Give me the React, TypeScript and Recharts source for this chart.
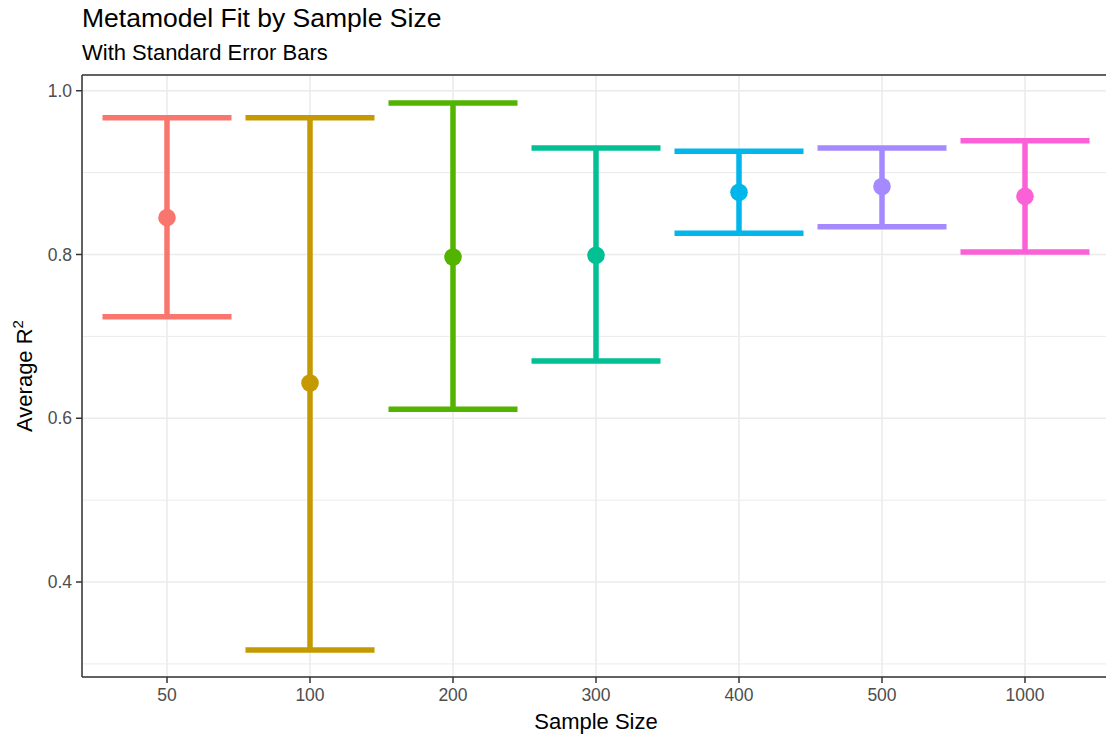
import React from "react";
import {
  ComposedChart, Bar, Line, XAxis, YAxis, CartesianGrid, ReferenceLine, Label,
} from "recharts";

const sampleSizes = ["50", "100", "200", "300", "400", "500", "1000"];
const meanR2 = [0.845, 0.643, 0.797, 0.799, 0.876, 0.883, 0.871];
const lowerR2 = [0.724, 0.317, 0.611, 0.670, 0.826, 0.834, 0.803];
const upperR2 = [0.967, 0.967, 0.985, 0.930, 0.926, 0.930, 0.939];
const yTicks = [0.4, 0.6, 0.8, 1.0];
const yMinor = [0.3, 0.5, 0.7, 0.9];

const COLORS = ["#F8766D", "#C49A00", "#53B400", "#00C094", "#00B6EB", "#A58AFF", "#FB61D7"];
const FONT = "'Liberation Sans', Arial, sans-serif";
const Y_DOMAIN: [number, number] = [0.284, 1.0192];

const data = sampleSizes.map((s, i) => ({
  size: s,
  mean: meanR2[i],
  range: [lowerR2[i], upperR2[i]],
}));

// draws the error bar (whisker + two caps) into the band the bar would take
function ErrorShape(props: any) {
  const { x, y, width, height, index } = props;
  const top = Math.min(y, y + height);
  const bottom = Math.max(y, y + height);
  const cx = x + width / 2;
  const c = COLORS[index];
  return (
    <g stroke={c} strokeWidth={5.5} strokeLinecap="butt">
      <line x1={cx} x2={cx} y1={top} y2={bottom} />
      <line x1={x} x2={x + width} y1={top} y2={top} />
      <line x1={x} x2={x + width} y1={bottom} y2={bottom} />
    </g>
  );
}

function MeanDot(props: any) {
  const { cx, cy, index } = props;
  return <circle key={index} cx={cx} cy={cy} r={8.8} fill={COLORS[index]} />;
}

function YTitle(props: any) {
  const { viewBox } = props;
  const cy = viewBox.y + viewBox.height / 2;
  return (
    <text
      x={32}
      y={cy}
      transform={`rotate(-90, 32, ${cy})`}
      textAnchor="middle"
      fontSize={22}
      fill="#000"
      fontFamily={FONT}
    >
      Average R<tspan dy={-9} fontSize={15}>2</tspan>
    </text>
  );
}

function XTitle(props: any) {
  const { viewBox } = props;
  return (
    <text
      x={viewBox.x + viewBox.width / 2}
      y={729}
      textAnchor="middle"
      fontSize={22}
      fill="#000"
      fontFamily={FONT}
    >
      Sample Size
    </text>
  );
}

export default function App() {
  return (
    <div
      style={{
        position: "fixed", left: 0, top: 0, width: 1106, height: 740,
        overflow: "hidden", background: "#fff", fontFamily: FONT,
      }}
    >
      <div style={{ position: "absolute", left: 82, top: 5, fontSize: 26.5, lineHeight: "26px", color: "#000" }}>
        Metamodel Fit by Sample Size
      </div>
      <div style={{ position: "absolute", left: 82, top: 42, fontSize: 22, lineHeight: "22px", color: "#000" }}>
        With Standard Error Bars
      </div>
      <div style={{ position: "absolute", left: 0, top: 0 }}>
        <ComposedChart
          width={1115}
          height={740}
          data={data}
          margin={{ top: 75, right: 5, bottom: 23, left: 0 }}
          barSize={129}
        >
          <CartesianGrid stroke="#EBEBEB" strokeWidth={1} horizontalValues={yMinor} vertical={false} />
          <CartesianGrid stroke="#EBEBEB" strokeWidth={1.6} />
          <XAxis
            dataKey="size"
            height={40}
            padding={{ left: 13.5, right: 13.5 }}
            axisLine={{ stroke: "#333", strokeWidth: 1.5 }}
            tickLine={{ stroke: "#333", strokeWidth: 1.5 }}
            tickSize={6}
            tick={{ fill: "#4D4D4D", fontSize: 17.5, fontFamily: FONT }}
            tickMargin={6}
          >
            <Label content={XTitle} />
          </XAxis>
          <YAxis
            width={82}
            type="number"
            domain={Y_DOMAIN}
            allowDataOverflow
            ticks={yTicks}
            tickFormatter={(v: number) => v.toFixed(1)}
            axisLine={{ stroke: "#333", strokeWidth: 1.5 }}
            tickLine={{ stroke: "#333", strokeWidth: 1.5 }}
            tickSize={6}
            tick={{ fill: "#4D4D4D", fontSize: 17.5, fontFamily: FONT }}
            tickMargin={4}
            label={{ content: YTitle }}
          />
          <ReferenceLine y={Y_DOMAIN[1]} stroke="#333" strokeWidth={1.5} />
          <Bar dataKey="range" shape={ErrorShape} isAnimationActive={false} />
          <Line
            dataKey="mean"
            stroke="none"
            dot={MeanDot}
            activeDot={false}
            isAnimationActive={false}
          />
        </ComposedChart>
      </div>
    </div>
  );
}
